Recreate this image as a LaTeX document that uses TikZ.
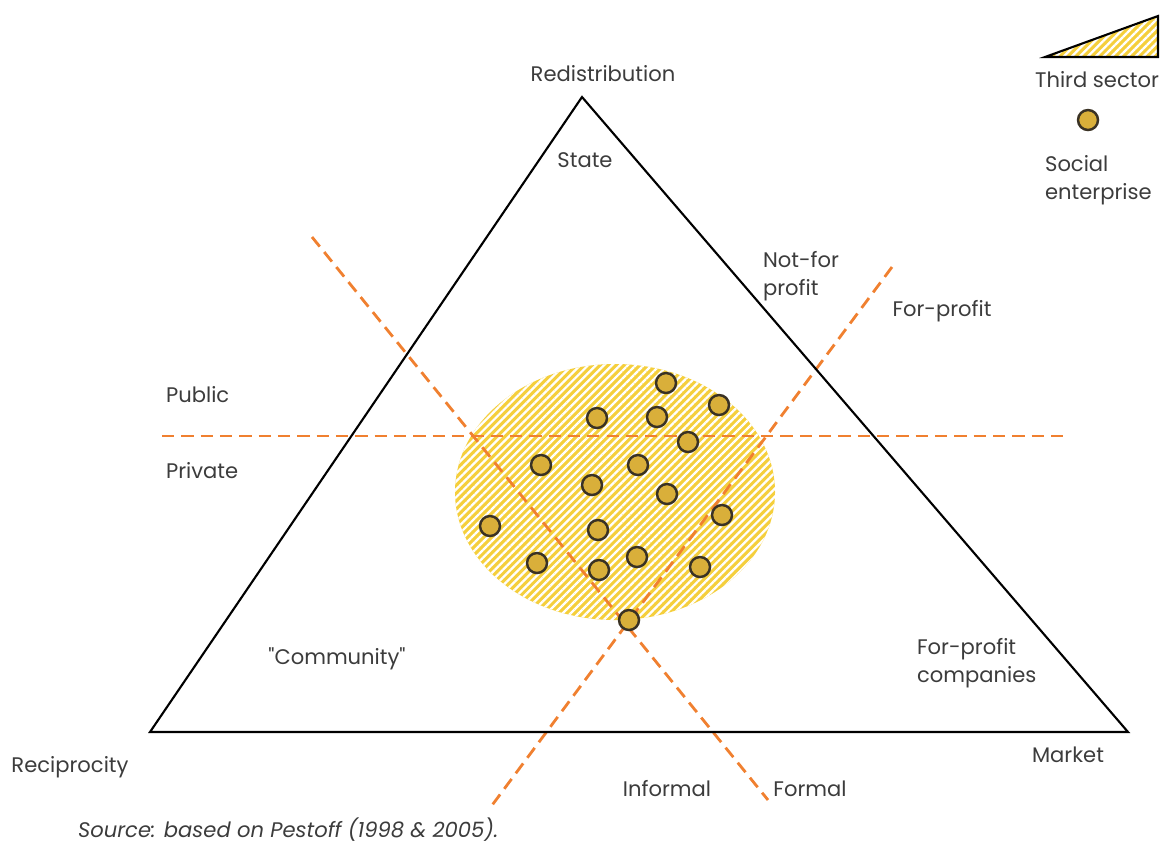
\documentclass[tikz,border=0pt]{standalone}
\usepackage{fontspec}
\setmainfont{Poppins}
\usetikzlibrary{patterns.meta, positioning}

\definecolor{dashorange}{HTML}{F08030}
\definecolor{sectoryellow}{HTML}{F5CF3C}
\definecolor{dotgold}{HTML}{D9AF3A}
\definecolor{dotrim}{HTML}{3A3224}
\definecolor{labelgrey}{HTML}{3C3C3C}

\begin{document}
\begin{tikzpicture}[
    x=0.02cm, y=-0.02cm,
    every node/.style = {font=\fontsize{12}{14}\selectfont, text=labelgrey, inner sep=1pt},
    sideline/.style   = {draw=black, line width=1.2pt, line join=miter},
    divider/.style    = {draw=dashorange, line width=1.6pt, dash pattern=on 7pt off 4pt},
    hatched/.style    = {pattern={Lines[angle=45, distance=3.2pt, line width=1.3pt]},
                         pattern color=white},
    enterprise/.style = {circle, draw=dotrim, fill=dotgold, line width=1.4pt,
                         minimum size=0.4cm, inner sep=0pt},
    twoline/.style    = {align=left, font=\fontsize{12}{16}\selectfont}
  ]
  \useasboundingbox (0,0) rectangle (1169,850);

  % corners of the welfare triangle
  \coordinate (redis)  at (582,97);
  \coordinate (recip)  at (150,732);
  \coordinate (market) at (1128,732);

  % the third sector
  \fill[sectoryellow] (615,492) ellipse [x radius=160, y radius=128];
  \fill[hatched]      (615,492) ellipse [x radius=160, y radius=128];

  % dividing lines
  \coordinate (pubW) at (162,436);
  \coordinate (pubE) at (1068,436);
  \coordinate (forN) at (312,237);
  \coordinate (forS) at (768,800);
  \coordinate (proN) at (892,267);
  \coordinate (proS) at (490,808);
  \draw[divider] (pubW) -- (pubE);
  \draw[divider] (forN) -- (forS);
  \draw[divider] (proN) -- (proS);

  \draw[sideline] (redis) -- (recip) -- (market) -- cycle;

  % social enterprises
  \foreach \px/\py [count=\i] in {666/383, 719/405, 597/418, 657/417, 688/442,
      541/465, 638/465, 592/485, 667/494, 490/526, 598/530, 722/515,
      537/563, 637/557, 599/570, 700/567, 629/620}
    \node[enterprise] (se\i) at (\px,\py) {};

  % labels
  \node (lblRedis)  at (603,74)  {Redistribution};
  \node (lblState)  at (585,160) {State};
  \node[twoline, anchor=west] (lblNfp) at (761,276) {Not-for\\profit};
  \node (lblFp)     at (942,311) {For-profit};
  \node[anchor=west] (lblPublic)  at (164,395) {Public};
  \node[anchor=west] (lblPrivate) at (164,471) {Private};
  \node (lblComm)   at (337,659) {\textquotedbl Community\textquotedbl};
  \node[twoline, anchor=west] (lblFpc) at (915,663) {For-profit\\companies};
  \node (lblRecip)  at (70,767)  {Reciprocity};
  \node (lblMarket) at (1068,755) {Market};
  \node (lblInf)    at (667,789) {Informal};
  \node (lblForm)   at (810,789) {Formal};
  \node[anchor=west, font=\fontsize{12}{14}\selectfont\itshape] (source)
       at (76,830) {Source: based on Pestoff (1998 \& 2005).};

  % legend
  \coordinate (legA) at (1045,57);
  \coordinate (legB) at (1158,57);
  \coordinate (legC) at (1158,16);
  \fill[sectoryellow] (legA) -- (legB) -- (legC) -- cycle;
  \fill[hatched]      (legA) -- (legB) -- (legC) -- cycle;
  \draw[sideline]     (legA) -- (legB) -- (legC) -- cycle;
  \node (lblThird) at (1097,80) {Third sector};
  \node[enterprise] (legDot) at (1088,120) {};
  \node[twoline, anchor=west] (lblSocial) at (1043,180) {Social\\enterprise};
\end{tikzpicture}
\end{document}
